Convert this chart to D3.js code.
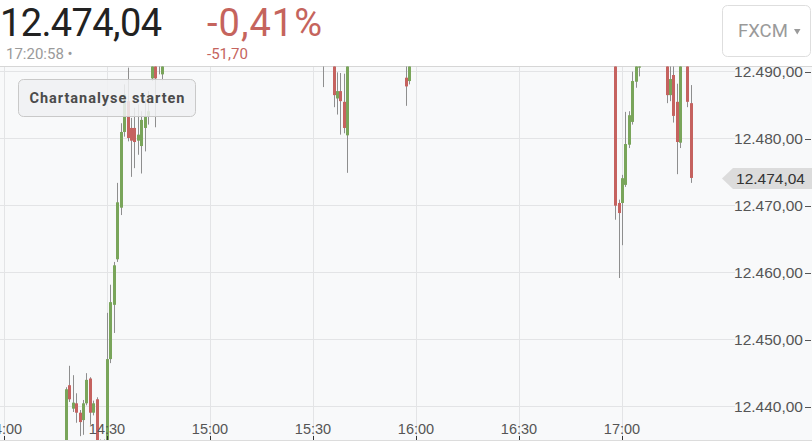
<!DOCTYPE html>
<html>
<head>
<meta charset="utf-8">
<script src="https://cdn.jsdelivr.net/npm/d3@7"></script>
<style>
  html, body { margin: 0; padding: 0; background: #fff; }
  svg { display: block; }
</style>
</head>
<body>
<svg id="chart" width="812" height="448"></svg>
<script>
(function () {
  'use strict';

  // 1-minute candles (FXCM, German format)
  const times = [
    '14:18', '14:19', '14:20', '14:21', '14:22', '14:23', '14:24', '14:25', '14:26', '14:27',
    '14:28', '14:29', '14:30', '14:31', '14:32', '14:33', '14:34', '14:35', '14:36', '14:37',
    '14:38', '14:39', '14:40', '14:41', '14:42', '14:43', '14:44', '14:45', '14:46',
    '15:33', '15:36', '15:37', '15:38', '15:39', '15:40', '15:57', '15:58',
    '16:58', '16:59', '17:00', '17:01', '17:02', '17:03', '17:04', '17:05',
    '17:13', '17:14', '17:15', '17:16', '17:17', '17:19', '17:20'
  ];
  const open = [
    12433.0, 12443.1, 12439.6, 12440.4, 12439.0, 12437.9, 12440.4, 12444.1, 12439.0, 12441.0,
    12433.0, 12434.7, 12434.2, 12447.0, 12455.1, 12461.9, 12469.6, 12480.9, 12485.5, 12481.5,
    12481.5, 12479.6, 12478.8, 12481.5, 12483.3, 12488.9, 12491.5, 12490.8, 12489.5,
    12492.5, 12492.0, 12485.9, 12487.0, 12485.4, 12480.4, 12489.0, 12488.5,
    12492.0, 12470.3, 12470.3, 12473.0, 12479.0, 12482.4, 12488.4, 12490.5,
    12492.0, 12486.4, 12489.4, 12485.4, 12479.3, 12492.0, 12485.2
  ];
  const high = [
    12442.8, 12446.0, 12444.6, 12441.9, 12439.4, 12440.9, 12444.9, 12444.3, 12440.8, 12441.3,
    12435.0, 12435.0, 12453.9, 12458.1, 12461.5, 12473.3, 12482.2, 12488.0, 12490.5, 12483.0,
    12484.5, 12485.0, 12484.0, 12486.0, 12487.0, 12492.0, 12492.5, 12493.0, 12492.0,
    12494.0, 12493.0, 12489.8, 12489.7, 12489.6, 12493.0, 12492.0, 12493.0,
    12493.0, 12470.8, 12474.5, 12483.9, 12484.0, 12489.9, 12492.0, 12493.0,
    12493.0, 12491.5, 12491.0, 12488.1, 12493.0, 12493.0, 12487.9
  ];
  const low = [
    12432.0, 12440.6, 12439.1, 12437.5, 12435.5, 12435.7, 12440.1, 12437.2, 12438.6, 12432.0,
    12432.0, 12432.0, 12433.0, 12446.4, 12450.9, 12461.5, 12468.5, 12480.2, 12479.5, 12474.2,
    12475.5, 12477.5, 12474.7, 12478.0, 12482.0, 12488.5, 12481.6, 12489.5, 12488.6,
    12487.6, 12484.6, 12483.5, 12480.5, 12480.7, 12474.8, 12484.8, 12488.0,
    12467.8, 12459.1, 12464.0, 12472.7, 12478.5, 12482.0, 12487.5, 12489.2,
    12485.2, 12485.5, 12482.3, 12474.6, 12478.5, 12484.6, 12473.3
  ];
  const close = [
    12442.5, 12441.0, 12440.5, 12439.0, 12437.6, 12440.4, 12443.9, 12439.0, 12440.4, 12433.0,
    12434.6, 12434.2, 12447.0, 12455.5, 12461.0, 12470.4, 12480.9, 12486.5, 12480.0, 12479.6,
    12479.4, 12480.5, 12482.7, 12483.3, 12484.0, 12491.5, 12488.9, 12492.0, 12491.0,
    12493.0, 12486.4, 12487.0, 12485.5, 12481.5, 12492.0, 12487.7, 12492.0,
    12469.9, 12468.8, 12474.0, 12479.1, 12483.4, 12488.5, 12491.0, 12492.0,
    12486.4, 12488.8, 12483.3, 12479.4, 12492.0, 12485.4, 12474.04
  ];

  const yTicks = [12440, 12450, 12460, 12470, 12480, 12490];
  const lastPrice = 12474.04;
  const changePct = -0.41;
  const changeAbs = -51.70;
  const lastTime = '17:20:58';
  const exchange = 'FXCM';

  const de = d3.formatLocale({
    decimal: ',', thousands: '.', grouping: [3], currency: ['', ' €'], minus: '-'
  });
  const fmtPrice = de.format(',.2f');
  const fmtPct = v => de.format('.2f')(v) + '%';
  const parse = d3.timeParse('%H:%M');

  const candles = times.map((t, i) => ({
    t: parse(t), o: open[i], h: high[i], l: low[i], c: close[i]
  }));

  const W = 812;
  const plot = { left: 0, top: 66.5, bottom: 440 };

  const x = d3.scaleTime()
    .domain([parse('14:00'), parse('17:00')])
    .range([4, 622]);
  const y = d3.scaleLinear()
    .domain([12440, 12490])
    .range([406, 71]);

  const GREEN = '#79a55a', RED = '#c5625f', WICK = '#8e8e8e';
  const FONT = '"Liberation Sans", Arial, sans-serif';

  const svg = d3.select('#chart');

  svg.append('defs').append('clipPath').attr('id', 'plot-clip')
    .append('rect')
    .attr('x', plot.left).attr('y', plot.top)
    .attr('width', W - plot.left).attr('height', plot.bottom - plot.top);

  // plot background
  svg.append('rect')
    .attr('x', 0).attr('y', plot.top)
    .attr('width', W).attr('height', plot.bottom - plot.top)
    .attr('fill', '#f8f9fa');

  const xTicks = x.ticks(d3.timeMinute.every(30));

  // grid
  const grid = svg.append('g').attr('clip-path', 'url(#plot-clip)');
  grid.selectAll('line.h')
    .data(yTicks)
    .join('line')
    .attr('x1', 0).attr('x2', 735)
    .attr('y1', d => Math.round(y(d)) + 0.5).attr('y2', d => Math.round(y(d)) + 0.5)
    .attr('stroke', '#e3e4e6');
  grid.selectAll('line.v')
    .data(xTicks)
    .join('line')
    .attr('x1', d => Math.round(x(d)) + 0.5).attr('x2', d => Math.round(x(d)) + 0.5)
    .attr('y1', plot.top).attr('y2', plot.bottom)
    .attr('stroke', '#e3e4e6');

  // borders
  svg.append('line')
    .attr('x1', 0).attr('x2', W).attr('y1', 66.5).attr('y2', 66.5)
    .attr('stroke', '#d6d6d6');
  svg.append('line')
    .attr('x1', 0).attr('x2', W).attr('y1', 440.5).attr('y2', 440.5)
    .attr('stroke', '#dcdcdc');

  // candles
  const bw = 3;
  const cg = svg.append('g').attr('clip-path', 'url(#plot-clip)');
  const cs = cg.selectAll('g.candle')
    .data(candles)
    .join('g')
    .attr('class', 'candle');
  cs.append('line')
    .attr('x1', d => Math.round(x(d.t)) + 0.5)
    .attr('x2', d => Math.round(x(d.t)) + 0.5)
    .attr('y1', d => y(d.h))
    .attr('y2', d => y(d.l))
    .attr('stroke', WICK)
    .attr('stroke-width', 1);
  cs.append('rect')
    .attr('x', d => Math.round(x(d.t)) - 1)
    .attr('width', bw)
    .attr('y', d => y(Math.max(d.o, d.c)))
    .attr('height', d => Math.max(1, Math.abs(y(d.o) - y(d.c))))
    .attr('fill', d => d.c >= d.o ? GREEN : RED);

  // x axis labels + ticks
  const fmtTime = d3.timeFormat('%H:%M');
  svg.selectAll('text.xl')
    .data(xTicks)
    .join('text')
    .attr('x', d => x(d))
    .attr('y', 434)
    .attr('text-anchor', 'middle')
    .attr('font-family', FONT)
    .attr('font-size', 14.5)
    .attr('fill', '#555')
    .text(d => fmtTime(d));
  svg.selectAll('line.xt')
    .data(xTicks)
    .join('line')
    .attr('x1', d => Math.round(x(d)) + 0.5).attr('x2', d => Math.round(x(d)) + 0.5)
    .attr('y1', 436).attr('y2', 440)
    .attr('stroke', '#333');

  // y axis labels
  const ya = svg.append('g').attr('clip-path', 'url(#plot-clip)');
  ya.selectAll('text')
    .data(yTicks)
    .join('text')
    .attr('x', 803)
    .attr('y', d => y(d))
    .attr('dy', '0.36em')
    .attr('text-anchor', 'end')
    .attr('font-family', FONT)
    .attr('font-size', 15.5)
    .attr('fill', '#555')
    .text(d => fmtPrice(d));
  ya.selectAll('line')
    .data(yTicks)
    .join('line')
    .attr('x1', 805).attr('x2', 811)
    .attr('y1', d => Math.round(y(d)) + 1.5).attr('y2', d => Math.round(y(d)) + 1.5)
    .attr('stroke', '#555');

  // last price tag
  const ty = Math.round(y(lastPrice)) + 0.5;
  svg.append('path')
    .attr('d', `M722,${ty} L733,${ty - 10.5} L812,${ty - 10.5} L812,${ty + 10.5} L733,${ty + 10.5} Z`)
    .attr('fill', '#dcdcdc');
  svg.append('text')
    .attr('x', 805).attr('y', ty).attr('dy', '0.36em')
    .attr('text-anchor', 'end')
    .attr('font-family', FONT)
    .attr('font-size', 15.5)
    .attr('fill', '#333')
    .text(fmtPrice(lastPrice));

  // "Chartanalyse starten" button
  svg.append('rect')
    .attr('x', 18.5).attr('y', 79.5).attr('width', 177).attr('height', 37).attr('rx', 5)
    .attr('fill', 'rgba(240,241,242,0.86)')
    .attr('stroke', '#c9c9c9');
  svg.append('text')
    .attr('x', 107).attr('y', 103)
    .attr('text-anchor', 'middle')
    .attr('font-family', 'Roboto, "Open Sans", sans-serif')
    .attr('font-weight', 700)
    .attr('font-size', 14.5)
    .attr('textLength', 155)
    .attr('fill', '#4b4b4b')
    .text('Chartanalyse starten');

  // header
  svg.append('text')
    .attr('x', 0).attr('y', 35.5)
    .attr('font-family', 'Roboto, sans-serif')
    .attr('font-size', 38)
    .attr('textLength', 162)
    .attr('fill', '#222')
    .text(fmtPrice(lastPrice));
  svg.append('text')
    .attr('x', 207).attr('y', 35.5)
    .attr('font-family', 'Roboto, sans-serif')
    .attr('font-size', 38)
    .attr('textLength', 115)
    .attr('fill', '#c5645d')
    .text(fmtPct(changePct));
  svg.append('text')
    .attr('x', 6).attr('y', 59)
    .attr('font-family', 'Roboto, sans-serif')
    .attr('font-size', 15)
    .attr('fill', '#9a9a9a')
    .text(lastTime + ' \u2022');
  svg.append('text')
    .attr('x', 207).attr('y', 59)
    .attr('font-family', 'Roboto, sans-serif')
    .attr('font-size', 15)
    .attr('fill', '#c5645d')
    .text(de.format(',.2f')(changeAbs));

  // exchange selector
  svg.append('rect')
    .attr('x', 722.5).attr('y', 5.5).attr('width', 88).attr('height', 51).attr('rx', 5)
    .attr('fill', '#fff')
    .attr('stroke', '#dedede');
  svg.append('text')
    .attr('x', 738).attr('y', 37)
    .attr('font-family', 'Roboto, sans-serif')
    .attr('font-size', 18.5)
    .attr('fill', '#9a9a9a')
    .text(exchange);
  svg.append('path')
    .attr('d', 'M794,29 L800.5,29 L797.25,34.5 Z')
    .attr('fill', '#9a9a9a');
})();
</script>
</body>
</html>
